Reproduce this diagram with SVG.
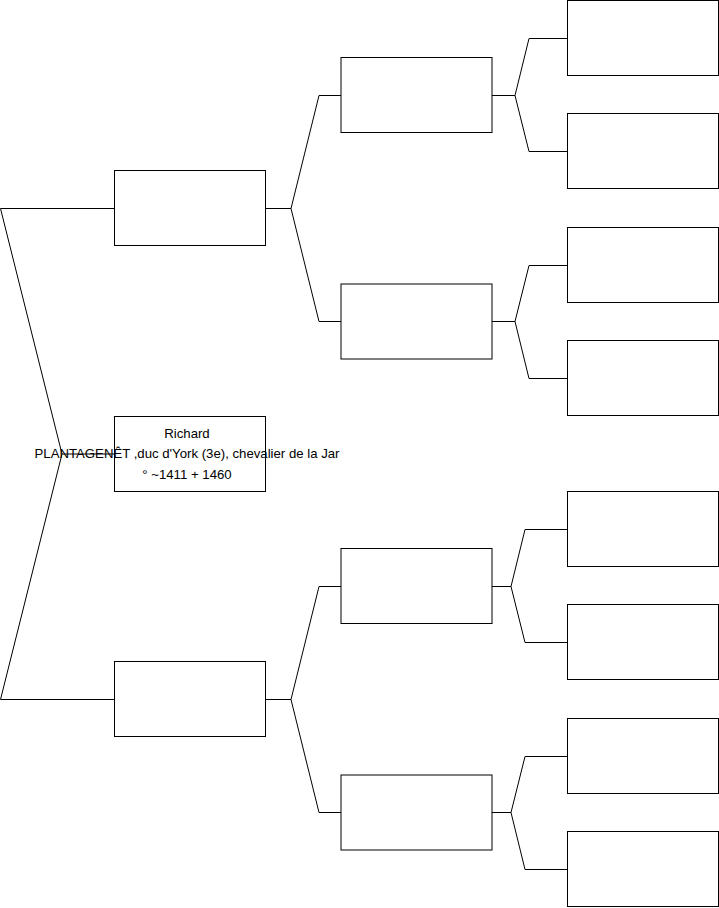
<svg xmlns="http://www.w3.org/2000/svg" width="719" height="908" viewBox="0 0 719 908">
<style>
.box{fill:#fff;stroke:#000;stroke-width:1}
.ln{fill:none;stroke:#000;stroke-width:1}
.t{font-family:"Liberation Sans",Arial,sans-serif;font-size:13.2px;fill:#000;text-anchor:middle}
</style>
<rect width="719" height="908" fill="#fff"/>
<g id="connectors">
<path class="ln" d="M114,208.5 H0.5 L62,454 L0.5,699.5 H114"/>
<path class="ln" d="M62,454 H114"/>
<path class="ln" d="M265,208.5 H291 L319,95.5 H341 M291,208.5 L319,321.5 H341"/>
<path class="ln" d="M265,699.5 H291 L319,586.5 H341 M291,699.5 L319,812.5 H341"/>
<path class="ln" d="M492,95.5 H515 L529,38.5 H567 M515,95.5 L529,151.5 H567"/>
<path class="ln" d="M492,321.5 H515 L529,265.5 H567 M515,321.5 L529,378.5 H567"/>
<path class="ln" d="M492,586.5 H511 L525,529.5 H567 M511,586.5 L525,642.5 H567"/>
<path class="ln" d="M492,812.5 H511 L525,756.5 H567 M511,812.5 L525,869.5 H567"/>
</g>
<g id="root">
<rect class="box" x="114.5" y="416.5" width="151" height="75"/>
<text class="t" x="187" y="438">Richard</text>
<text class="t" x="187" y="458">PLANTAGENÊT ,duc d'York (3e), chevalier de la Jar</text>
<text class="t" x="187" y="478.5">° ~1411 + 1460</text>
</g>
<g id="father"><rect class="box" x="114.5" y="170.5" width="151" height="75"/></g>
<g id="mother"><rect class="box" x="114.5" y="661.5" width="151" height="75"/></g>
<g id="ff"><rect class="box" x="341" y="57.5" width="151" height="75"/></g>
<g id="fm"><rect class="box" x="341" y="284" width="151" height="75"/></g>
<g id="mf"><rect class="box" x="341" y="548.5" width="151" height="75"/></g>
<g id="mm"><rect class="box" x="341" y="775" width="151" height="75"/></g>
<g id="fff"><rect class="box" x="567.5" y="0.5" width="151" height="75"/></g>
<g id="ffm"><rect class="box" x="567.5" y="113.5" width="151" height="75"/></g>
<g id="fmf"><rect class="box" x="567.5" y="227.5" width="151" height="75"/></g>
<g id="fmm"><rect class="box" x="567.5" y="340.5" width="151" height="75"/></g>
<g id="mff"><rect class="box" x="567.5" y="491.5" width="151" height="75"/></g>
<g id="mfm"><rect class="box" x="567.5" y="604.5" width="151" height="75"/></g>
<g id="mmf"><rect class="box" x="567.5" y="718.5" width="151" height="75"/></g>
<g id="mmm"><rect class="box" x="567.5" y="831.5" width="151" height="75"/></g>
</svg>
